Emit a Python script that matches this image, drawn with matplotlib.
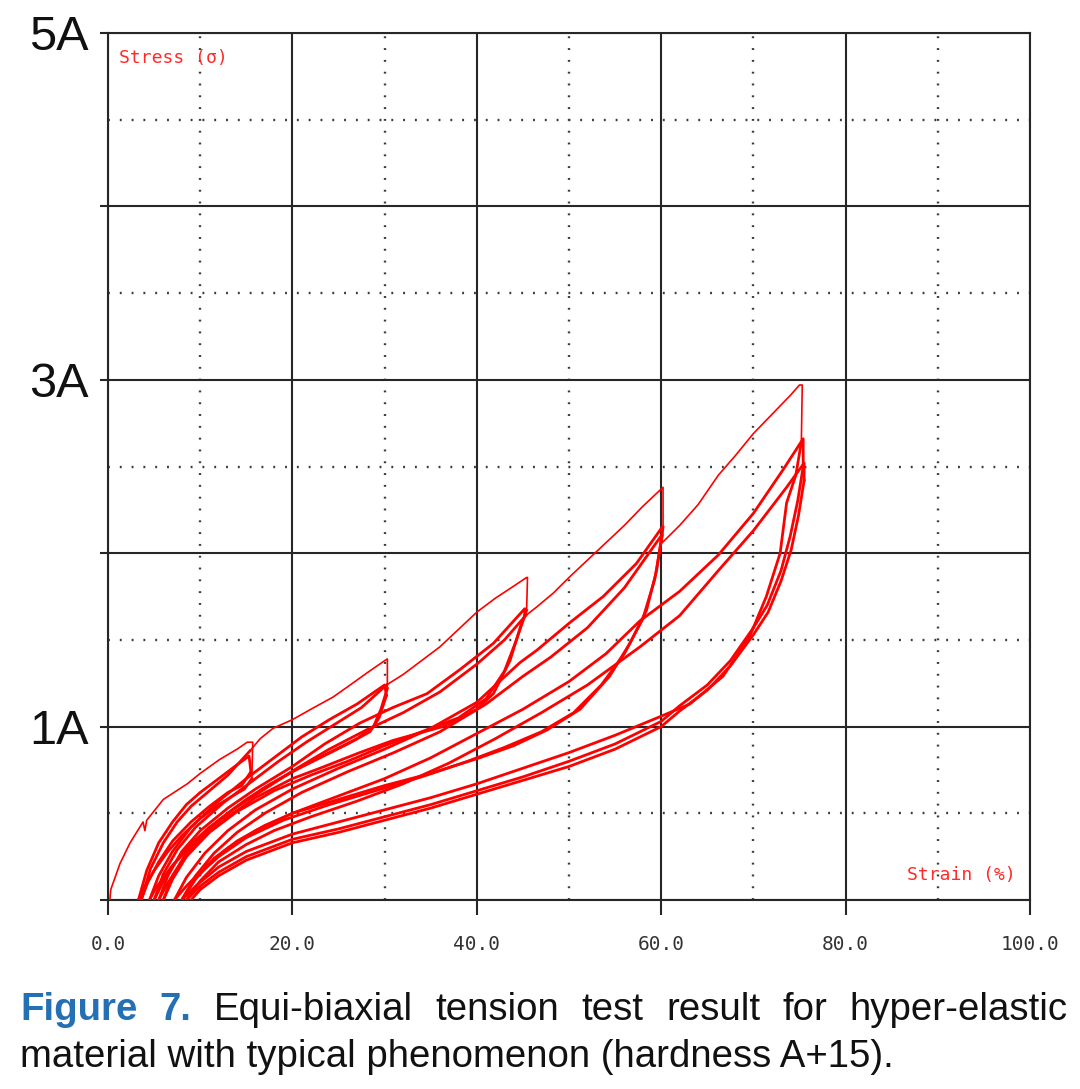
import numpy as np
import matplotlib
matplotlib.use("Agg")
import matplotlib.pyplot as plt
from matplotlib.ticker import MultipleLocator, FixedLocator, FixedFormatter
from matplotlib import font_manager as fm

# strain in %, stress in units of A
# level 15 %
virgin_15 = [(0.2, 0.0), (0.3, 0.06), (1.3, 0.21), (2.4, 0.33), (3.8, 0.45), (4.0, 0.40),
             (4.2, 0.46), (6.0, 0.58), (8.6, 0.67), (10.0, 0.73), (12.1, 0.81), (14.0, 0.87),
             (15.1, 0.91), (15.7, 0.91), (15.6, 0.70)]
unload_15a = [(15.6, 0.70), (14.8, 0.64), (13.5, 0.60), (12.0, 0.55), (10.0, 0.47), (8.0, 0.37),
              (6.5, 0.28), (5.0, 0.17), (4.0, 0.08), (3.3, 0.0)]
reload_15a = [(3.3, 0.0), (4.2, 0.17), (5.5, 0.33), (7.0, 0.45), (8.5, 0.55), (10.0, 0.62),
              (12.0, 0.70), (14.0, 0.78), (15.3, 0.83), (15.5, 0.74)]
unload_15b = [(15.5, 0.74), (14.5, 0.66), (13.0, 0.62), (11.0, 0.54), (9.0, 0.45), (7.0, 0.34),
              (5.5, 0.22), (4.3, 0.10), (3.6, 0.0)]
reload_15b = [(3.6, 0.0), (4.6, 0.18), (6.0, 0.33), (7.5, 0.45), (9.0, 0.54), (11.0, 0.63),
              (13.0, 0.72), (15.4, 0.86)]

# level 30 %
virgin_30 = [(15.4, 0.86), (16.5, 0.93), (17.9, 0.99), (20.0, 1.04), (22.0, 1.10), (24.4, 1.17),
             (26.0, 1.23), (28.1, 1.31), (30.0, 1.38), (30.3, 1.39), (30.3, 1.22)]
unload_30a = [(30.3, 1.22), (29.6, 1.10), (28.8, 1.00), (27.0, 0.93), (24.0, 0.85), (21.0, 0.77),
              (18.0, 0.68), (15.0, 0.58), (12.0, 0.46), (9.5, 0.34), (7.0, 0.20), (5.2, 0.07), (4.5, 0.0)]
reload_30a = [(4.5, 0.0), (5.5, 0.14), (7.0, 0.28), (9.0, 0.42), (12.0, 0.57), (15.0, 0.70),
              (18.0, 0.82), (21.0, 0.94), (24.0, 1.04), (27.0, 1.13), (30.0, 1.24), (30.2, 1.18)]
unload_30b = [(30.2, 1.18), (29.4, 1.05), (28.4, 0.97), (26.0, 0.90), (23.0, 0.82), (20.0, 0.74),
              (17.0, 0.65), (14.0, 0.54), (11.0, 0.42), (8.5, 0.30), (6.5, 0.16), (5.0, 0.0)]
reload_30b = [(5.0, 0.0), (6.0, 0.15), (7.5, 0.29), (9.5, 0.42), (12.5, 0.56), (15.5, 0.68),
              (18.5, 0.80), (21.5, 0.91), (24.5, 1.01), (27.5, 1.11), (30.2, 1.24)]

# level 45 %
virgin_45 = [(30.2, 1.24), (32.0, 1.30), (34.0, 1.38), (36.0, 1.46), (38.0, 1.56), (40.0, 1.66),
             (42.0, 1.74), (44.0, 1.81), (45.4, 1.86), (45.5, 1.86), (45.4, 1.67)]
unload_45a = [(45.4, 1.67), (44.7, 1.57), (43.6, 1.38), (41.8, 1.19), (40.0, 1.10), (36.3, 1.00),
              (30.9, 0.92), (27.3, 0.85), (23.0, 0.76), (20.0, 0.70), (16.0, 0.59), (13.0, 0.48),
              (10.0, 0.35), (8.0, 0.22), (6.5, 0.10), (5.5, 0.0)]
reload_45a = [(5.5, 0.0), (6.5, 0.14), (8.0, 0.28), (10.0, 0.40), (13.0, 0.53), (16.0, 0.64),
              (20.0, 0.77), (23.5, 0.90), (27.3, 1.02), (30.9, 1.11), (34.6, 1.19), (38.2, 1.33),
              (41.8, 1.48), (45.2, 1.68), (45.2, 1.64)]
unload_45b = [(45.2, 1.64), (44.3, 1.50), (43.0, 1.32), (41.0, 1.16), (38.0, 1.05), (34.0, 0.97),
              (30.0, 0.89), (26.0, 0.80), (22.0, 0.72), (18.0, 0.63), (14.0, 0.51), (11.0, 0.39),
              (8.5, 0.25), (7.0, 0.12), (6.0, 0.0)]
reload_45b = [(6.0, 0.0), (7.0, 0.14), (8.5, 0.27), (10.5, 0.39), (13.5, 0.52), (17.0, 0.64),
              (20.5, 0.76), (24.0, 0.87), (28.0, 0.98), (32.0, 1.08), (36.0, 1.20), (40.0, 1.36),
              (43.0, 1.50), (45.3, 1.64)]

# level 60 %
virgin_60 = [(45.3, 1.64), (46.5, 1.69), (48.3, 1.77), (50.0, 1.86), (52.0, 1.96), (54.0, 2.06),
             (56.0, 2.16), (58.0, 2.27), (60.0, 2.37), (60.2, 2.38), (60.2, 2.15)]
unload_60a = [(60.2, 2.15), (59.5, 1.90), (58.4, 1.67), (56.6, 1.48), (54.4, 1.29), (51.2, 1.10),
              (47.6, 0.98), (44.0, 0.89), (40.3, 0.82), (35.0, 0.73), (30.0, 0.66), (25.0, 0.58),
              (20.0, 0.50), (16.0, 0.40), (13.0, 0.30), (10.5, 0.19), (8.5, 0.08), (7.2, 0.0)]
reload_60a = [(7.2, 0.0), (8.5, 0.13), (10.5, 0.27), (13.0, 0.40), (16.0, 0.52), (20.0, 0.64),
              (25.0, 0.76), (30.0, 0.87), (35.0, 0.99), (40.0, 1.14), (44.7, 1.37), (46.5, 1.44),
              (50.1, 1.60), (53.7, 1.75), (57.3, 1.94), (60.1, 2.15), (60.1, 2.10)]
unload_60b = [(60.1, 2.10), (59.3, 1.85), (58.0, 1.62), (56.0, 1.42), (53.5, 1.24), (50.5, 1.08),
              (47.0, 0.97), (43.0, 0.88), (39.0, 0.80), (34.0, 0.71), (29.0, 0.63), (24.0, 0.55),
              (19.0, 0.46), (15.0, 0.36), (12.0, 0.25), (9.5, 0.13), (8.0, 0.0)]
reload_60b = [(8.0, 0.0), (9.5, 0.14), (11.5, 0.27), (14.0, 0.39), (17.0, 0.50), (21.0, 0.62),
              (26.0, 0.74), (31.0, 0.85), (36.0, 0.97), (41.0, 1.13), (45.0, 1.29), (48.0, 1.40),
              (52.0, 1.57), (56.0, 1.80), (60.0, 2.10)]

# level 75 %
virgin_75 = [(60.0, 2.10), (60.1, 2.06), (62.0, 2.16), (64.0, 2.28), (66.2, 2.45), (68.0, 2.56),
             (70.0, 2.69), (72.0, 2.80), (74.0, 2.91), (75.0, 2.97), (75.3, 2.97), (75.2, 2.64)]
unload_75a = [(75.2, 2.64), (74.6, 2.45), (73.6, 2.29), (72.9, 2.00), (71.4, 1.75), (69.6, 1.52),
              (66.7, 1.29), (63.1, 1.13), (60.0, 1.06), (55.0, 0.95), (50.0, 0.85), (45.0, 0.76),
              (40.0, 0.67), (35.0, 0.59), (30.0, 0.52), (25.0, 0.45), (20.0, 0.38), (15.0, 0.28),
              (12.0, 0.19), (9.5, 0.08), (8.0, 0.0)]
reload_75a = [(8.0, 0.0), (9.5, 0.12), (11.5, 0.24), (14.0, 0.34), (17.0, 0.43), (20.0, 0.50),
              (25.0, 0.60), (30.0, 0.70), (35.0, 0.82), (40.0, 0.96), (45.0, 1.10), (50.0, 1.26),
              (54.0, 1.42), (57.7, 1.61), (62.0, 1.78), (66.2, 1.99), (70.0, 2.23), (73.2, 2.48),
              (75.4, 2.66), (75.4, 2.50)]
unload_75b = [(75.4, 2.50), (74.8, 2.30), (74.0, 2.10), (73.0, 1.90), (71.5, 1.70), (70.0, 1.57),
              (67.5, 1.38), (65.0, 1.24), (62.0, 1.12), (60.0, 1.03), (55.0, 0.90), (50.0, 0.80),
              (45.0, 0.71), (40.0, 0.63), (35.0, 0.55), (30.0, 0.48), (25.0, 0.41), (20.0, 0.35),
              (15.0, 0.25), (12.0, 0.16), (10.0, 0.08), (8.5, 0.0)]
reload_75b = [(8.5, 0.0), (10.0, 0.11), (12.0, 0.22), (15.0, 0.32), (18.0, 0.40), (22.0, 0.48),
              (27.0, 0.57), (32.0, 0.67), (37.0, 0.79), (42.0, 0.93), (47.0, 1.08), (52.0, 1.24),
              (57.7, 1.46), (62.0, 1.64), (66.2, 1.90), (70.0, 2.13), (73.6, 2.38), (75.5, 2.52),
              (75.5, 2.42)]
unload_75c = [(75.5, 2.42), (74.9, 2.22), (74.1, 2.02), (73.0, 1.84), (71.6, 1.66), (70.0, 1.53),
              (67.5, 1.35), (65.0, 1.21), (62.0, 1.09), (60.0, 1.00), (55.0, 0.87), (50.0, 0.77),
              (45.0, 0.69), (40.0, 0.61), (35.0, 0.53), (30.0, 0.46), (25.0, 0.39), (20.0, 0.33),
              (15.0, 0.23), (12.0, 0.14), (10.0, 0.06), (9.0, 0.0)]

virgin_parts = [virgin_15, virgin_30, virgin_45, virgin_60, virgin_75]
cycle_parts = [unload_15a, reload_15a, unload_15b, reload_15b,
               unload_30a, reload_30a, unload_30b, reload_30b,
               unload_45a, reload_45a, unload_45b, reload_45b,
               unload_60a, reload_60a, unload_60b, reload_60b,
               unload_75a, reload_75a, unload_75b, reload_75b, unload_75c]

x_ticks = [0, 20, 40, 60, 80, 100]
x_labels = ["0.0", "20.0", "40.0", "60.0", "80.0", "100.0"]
y_ticks = [0, 1, 2, 3, 4, 5]
y_labels = ["", "1A", "", "3A", "", "5A"]

caption_line1 = ["Figure", "7.", "Equi-biaxial", "tension", "test", "result", "for", "hyper-elastic"]
caption_line2 = "material with typical phenomenon (hardness A+15)."

W, H = 1080, 1089
fig = plt.figure(figsize=(W / 100, H / 100), dpi=100)
ax = fig.add_axes([108 / W, 1 - 900 / H, (1030 - 108) / W, (900 - 33) / H])

grid_col = "#262626"
ax.set_xlim(0, 100)
ax.set_ylim(0, 5)
ax.xaxis.set_major_locator(FixedLocator(x_ticks))
ax.xaxis.set_major_formatter(FixedFormatter(x_labels))
ax.yaxis.set_major_locator(FixedLocator(y_ticks))
ax.yaxis.set_major_formatter(FixedFormatter(y_labels))
ax.xaxis.set_minor_locator(MultipleLocator(10))
ax.yaxis.set_minor_locator(MultipleLocator(0.5))

ax.grid(which="major", color=grid_col, lw=1.5, ls="-")
ax.grid(which="minor", color="#3a3a3a", lw=1.7, ls=(0, (0.8, 4.2)))
ax.set_axisbelow(True)
for sp in ax.spines.values():
    sp.set_color(grid_col)
    sp.set_linewidth(1.5)

ax.tick_params(axis="x", which="major", direction="out", length=11, width=1.5, color=grid_col,
               pad=14, labelsize=14, labelcolor="#333333")
ax.tick_params(axis="y", which="major", direction="out", length=6, width=1.5, color=grid_col,
               pad=8, labelsize=35, labelcolor="#111111")
ax.tick_params(which="minor", length=0)
for lab in ax.get_xticklabels():
    lab.set_fontfamily("DejaVu Sans Mono")
for lab in ax.get_yticklabels():
    lab.set_fontfamily("Liberation Sans")

for seg in virgin_parts:
    arr = np.array(seg)
    ax.plot(arr[:, 0], arr[:, 1], color="#ff0000", lw=1.2, zorder=3)
for seg in cycle_parts:
    arr = np.array(seg)
    ax.plot(arr[:, 0], arr[:, 1], color="#ff0000", lw=2.0, zorder=3)

ax.text(0.012, 0.982, "Stress (σ)", transform=ax.transAxes, color="#ff2a2a", fontsize=13,
        family="DejaVu Sans Mono", ha="left", va="top")
ax.text(0.985, 0.018, "Strain (%)", transform=ax.transAxes, color="#ff2a2a", fontsize=13,
        family="DejaVu Sans Mono", ha="right", va="bottom")

# caption: justified first line, natural second line
names = {f.name for f in fm.fontManager.ttflist}
cap_font = "Liberation Sans Narrow" if "Liberation Sans Narrow" in names else "Liberation Sans"
renderer = fig.canvas.get_renderer()

probe = fig.text(0, 0, caption_line2, fontsize=27, family=cap_font)
w2 = probe.get_window_extent(renderer).width
probe.remove()
cap_size = 27 * (895 - 20) / w2

fig.text(20 / W, 1 - 1067 / H, caption_line2, fontsize=cap_size, family=cap_font,
         color="#111111", va="baseline", ha="left")

words = []
for i, wd in enumerate(caption_line1):
    bold = i < 2
    t = fig.text(0, 1 - 1020 / H, wd, fontsize=cap_size, family=cap_font,
                 fontweight="bold" if bold else "normal",
                 color="#2470b5" if bold else "#111111", va="baseline", ha="left")
    words.append(t)
widths = [t.get_window_extent(renderer).width for t in words]
gap = (1068 - 20 - sum(widths)) / (len(words) - 1)
xpos = 20
for t, w in zip(words, widths):
    t.set_x(xpos / W)
    xpos += w + gap

fig.savefig("out.png", dpi=100)
